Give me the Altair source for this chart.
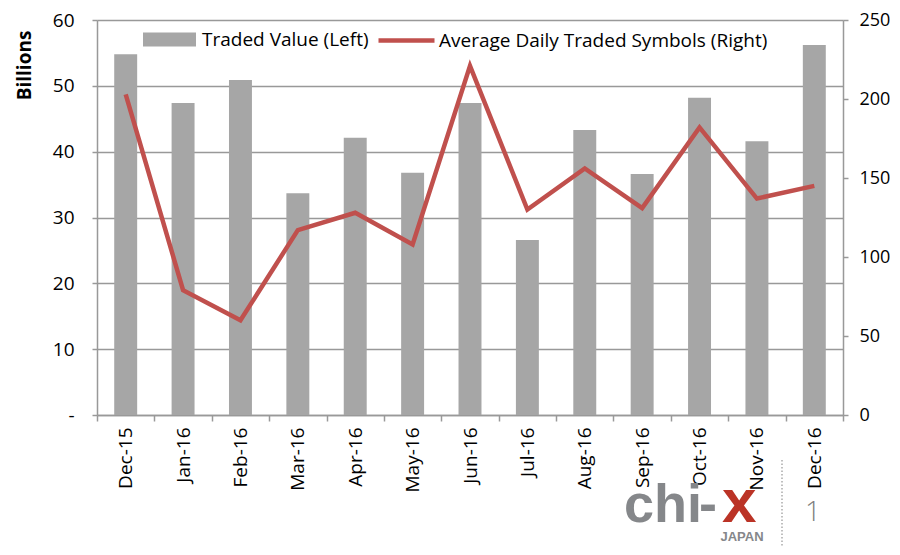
import altair as alt
import pandas as pd

months = ["Dec-15", "Jan-16", "Feb-16", "Mar-16", "Apr-16", "May-16", "Jun-16",
          "Jul-16", "Aug-16", "Sep-16", "Oct-16", "Nov-16", "Dec-16"]
traded_value = [54.8, 47.4, 50.9, 33.7, 42.1, 36.8, 47.4, 26.6, 43.3, 36.6, 48.2, 41.6, 56.2]
avg_symbols = [203, 79, 60, 117, 128, 108, 221, 130, 156, 131, 182, 137, 145]
left_ticks = [0, 10, 20, 30, 40, 50, 60]
right_ticks = [0, 50, 100, 150, 200, 250]
bar_name = "Traded Value (Left)"
line_name = "Average Daily Traded Symbols (Right)"

df = pd.DataFrame({"month": months, "value": traded_value, "symbols": avg_symbols,
                   "s1": bar_name, "s2": line_name})

FONT = "Open Sans"
GRID = "#999999"
BAR = "#a6a6a6"
RED = "#c0504d"
LOGO_GRAY = "#85878a"
LOGO_RED = "#bb3326"
W, H = 746, 395
FS = 19

x_enc = alt.X("month:N", sort=months, title=None,
              scale=alt.Scale(paddingInner=0, paddingOuter=0),
              axis=alt.Axis(labelAngle=-90, tickBand="extent", tickSize=6, labelPadding=6,
                            labelFont=FONT, labelFontSize=FS, labelColor="#000000",
                            domainColor=GRID, domainWidth=1.5, tickColor=GRID, tickWidth=1.5))

base = alt.Chart(df)

bars = base.mark_bar(width={"band": 0.4}).encode(
    x=x_enc,
    y=alt.Y("value:Q", scale=alt.Scale(domain=[0, 60]),
            axis=alt.Axis(values=left_ticks, grid=True, gridColor=GRID, gridWidth=1.5,
                          labelExpr="datum.value == 0 ? '-' : datum.label",
                          labelFont=FONT, labelFontSize=FS, labelColor="#000000",
                          labelPadding=18, tickSize=5, tickColor=GRID, tickWidth=1.5,
                          domainColor=GRID, domainWidth=1.5,
                          title="Billions", titleFont=FONT, titleFontSize=19,
                          titleFontWeight="bold", titleColor="#000000",
                          titleX=-63, titleY=45, titleAngle=-90)),
    fill=alt.Fill("s1:N", scale=alt.Scale(domain=[bar_name], range=[BAR]),
                  legend=alt.Legend(orient="none", legendX=46, legendY=-7, title=None,
                                    symbolType="M-1,-0.26H1V0.26H-1Z", symbolSize=2809,
                                    symbolStrokeWidth=0, labelFont=FONT, labelFontSize=FS,
                                    labelColor="#000000", labelOffset=6, labelLimit=0,
                                    padding=0)),
)

line = base.mark_line(strokeWidth=4.5).encode(
    x=x_enc,
    y=alt.Y("symbols:Q", scale=alt.Scale(domain=[0, 250]),
            axis=alt.Axis(orient="right", values=right_ticks, grid=False,
                          labelFont=FONT, labelFontSize=18, labelColor="#000000",
                          labelPadding=11, tickSize=5, tickColor=GRID, tickWidth=1.5,
                          domainColor=GRID, domainWidth=1.5, title=None)),
    stroke=alt.Stroke("s2:N", scale=alt.Scale(domain=[line_name], range=[RED]),
                      legend=alt.Legend(orient="none", legendX=279, legendY=-10, title=None,
                                        symbolType="stroke", symbolSize=3136,
                                        symbolStrokeWidth=4.5, labelFont=FONT, labelFontSize=FS,
                                        labelColor="#000000", labelOffset=2, labelLimit=0,
                                        padding=0)),
)

logo_df = pd.DataFrame({"t": ["x"]})
lb = alt.Chart(logo_df)
LOGO_FONT = "Liberation Sans"
chi = lb.mark_text(text="chi", font=LOGO_FONT, fontSize=54, fontWeight="bold",
                   color=LOGO_GRAY, align="left", baseline="alphabetic").encode(
    x=alt.value(527), y=alt.value(502))
dash = lb.mark_text(text="-", font=LOGO_FONT, fontSize=54, fontWeight="bold",
                    color=LOGO_GRAY, align="left", baseline="alphabetic").encode(
    x=alt.value(602), y=alt.value(502))
xmark = lb.mark_text(text="x", font=LOGO_FONT, fontSize=62, fontWeight="bold",
                     color=LOGO_RED, align="left", baseline="alphabetic").encode(
    x=alt.value(625), y=alt.value(502))
japan = lb.mark_text(text="JAPAN", font=LOGO_FONT, fontSize=13, fontWeight="bold",
                     color=LOGO_GRAY, align="center", baseline="alphabetic").encode(
    x=alt.value(645), y=alt.value(521))
page = lb.mark_text(text="1", font=FONT, fontSize=28, fontWeight=300, color="#7f7f7f",
                    align="center", baseline="alphabetic").encode(
    x=alt.value(716), y=alt.value(501))
dots = lb.mark_rule(color="#aaaaaa", strokeWidth=1.5, strokeDash=[1.5, 2]).encode(
    x=alt.value(685), y=alt.value(440), y2=alt.value(535))

chart = alt.layer(bars, line, chi, dash, xmark, japan, page, dots).resolve_scale(
    y="independent", fill="independent", stroke="independent"
).properties(
    width=W, height=H,
    autosize=alt.AutoSizeParams(type="none"),
    padding={"left": 89, "top": 12, "right": 49, "bottom": 132},
).configure_view(stroke=None).configure(background="white")

chart.save("out.html", embed_options={"renderer": "svg", "actions": False})
